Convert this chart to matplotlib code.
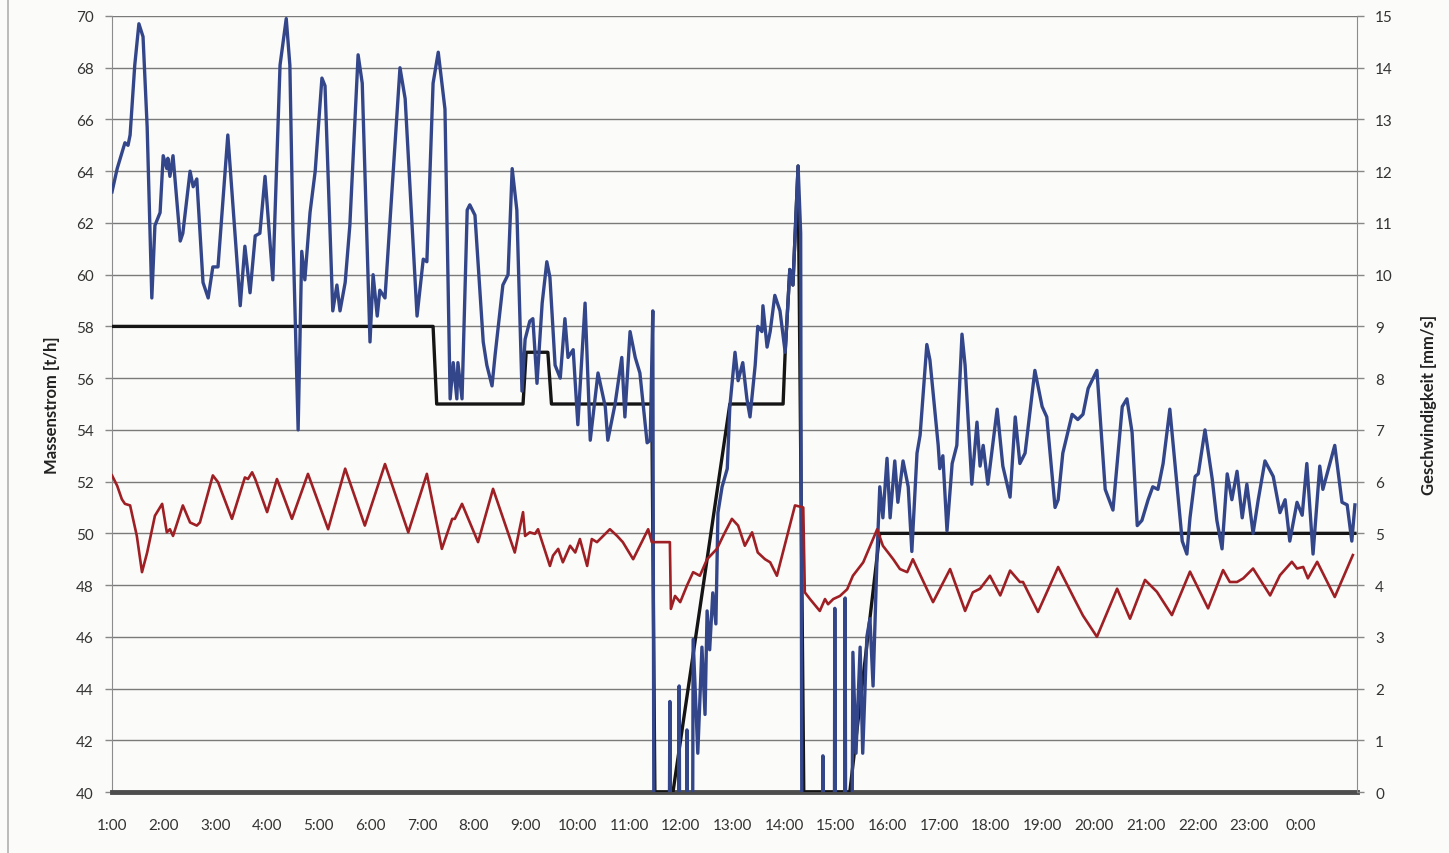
#!/usr/bin/env python3
"""
Massenstrom und Geschwindigkeit über einen Tag (Tagesverlauf)
"""

import matplotlib
matplotlib.use('Agg')
import matplotlib.pyplot as plt

plt.rcParams['font.family'] = ['Lato', 'DejaVu Sans']

# Uhrzeit in Stunden (1.0 = 1:00, 25.0 = 1:00 am Folgetag)
massenstrom_t = [
    1.00, 1.10, 1.19, 1.25, 1.31, 1.35, 1.44, 1.52, 1.60, 1.68, 1.77, 1.83, 1.93, 1.99,
    2.06, 2.08, 2.12, 2.18, 2.32, 2.37, 2.51, 2.57, 2.64, 2.76, 2.86, 2.95, 3.05, 3.24,
    3.48, 3.57, 3.67, 3.77, 3.86, 3.96, 4.11, 4.25, 4.37, 4.44, 4.50, 4.60, 4.67, 4.73,
    4.83, 4.93, 5.06, 5.12, 5.27, 5.35, 5.41, 5.51, 5.60, 5.76, 5.84, 5.99, 6.05, 6.13,
    6.18, 6.28, 6.57, 6.67, 6.90, 7.02, 7.09, 7.21, 7.31, 7.44, 7.54, 7.60, 7.67, 7.69,
    7.77, 7.87, 7.92, 8.02, 8.18, 8.25, 8.35, 8.41, 8.56, 8.66, 8.74, 8.83, 8.93, 8.99,
    9.08, 9.14, 9.22, 9.32, 9.41, 9.47, 9.57, 9.67, 9.76, 9.82, 9.92, 10.01, 10.15, 10.25,
    10.40, 10.54, 10.59, 10.73, 10.86, 10.92, 11.02, 11.12, 11.21, 11.35, 11.41, 11.46,
    11.52, 11.70, 11.79, 11.87, 11.97, 12.04, 12.12, 12.18, 12.24, 12.33, 12.41, 12.47,
    12.51, 12.56, 12.62, 12.68, 12.72, 12.80, 12.90, 12.95, 13.05, 13.11, 13.20, 13.28,
    13.34, 13.44, 13.49, 13.57, 13.59, 13.67, 13.73, 13.82, 13.92, 14.02, 14.11, 14.17,
    14.27, 14.32, 14.38, 14.71, 14.75, 14.81, 14.94, 14.98, 15.04, 15.14, 15.18, 15.23,
    15.33, 15.39, 15.47, 15.52, 15.60, 15.66, 15.72, 15.80, 15.85, 15.91, 15.99, 16.05,
    16.14, 16.20, 16.30, 16.40, 16.47, 16.57, 16.63, 16.76, 16.82, 16.98, 17.01, 17.07,
    17.15, 17.25, 17.34, 17.44, 17.50, 17.63, 17.73, 17.79, 17.85, 17.94, 18.12, 18.23,
    18.37, 18.47, 18.56, 18.66, 18.85, 18.99, 19.08, 19.24, 19.30, 19.39, 19.57, 19.68,
    19.78, 19.88, 20.05, 20.21, 20.36, 20.54, 20.63, 20.73, 20.83, 20.92, 21.04, 21.13,
    21.23, 21.33, 21.46, 21.60, 21.70, 21.79, 21.85, 21.95, 22.01, 22.14, 22.28, 22.37,
    22.47, 22.57, 22.66, 22.76, 22.86, 22.95, 23.07, 23.17, 23.30, 23.46, 23.59, 23.69,
    23.78, 23.92, 24.02, 24.11, 24.23, 24.36, 24.42, 24.65, 24.79, 24.89, 24.98, 25.04,
]
massenstrom = [
    63.2, 64.1, 64.7, 65.1, 65.0, 65.4, 68.1, 69.7, 69.2, 65.7, 59.1, 61.9, 62.4, 64.6,
    64.1, 64.5, 63.8, 64.6, 61.3, 61.6, 64.0, 63.4, 63.7, 59.7, 59.1, 60.3, 60.3, 65.4,
    58.8, 61.1, 59.3, 61.5, 61.6, 63.8, 59.8, 68.1, 69.9, 68.1, 61.6, 54.0, 60.9, 59.8,
    62.4, 64.0, 67.6, 67.3, 58.6, 59.6, 58.6, 59.7, 61.9, 68.5, 67.4, 57.4, 60.0, 58.4,
    59.4, 59.1, 68.0, 66.8, 58.4, 60.6, 60.5, 67.4, 68.6, 66.4, 55.2, 56.6, 55.2, 56.6,
    55.2, 62.5, 62.7, 62.3, 57.4, 56.5, 55.7, 56.9, 59.6, 60.0, 64.1, 62.5, 55.5, 57.5,
    58.2, 58.3, 55.8, 58.9, 60.5, 59.9, 56.5, 56.0, 58.3, 56.8, 57.1, 54.2, 58.9, 53.6,
    56.2, 54.9, 53.6, 55.0, 56.8, 54.5, 57.8, 56.8, 56.2, 53.5, 53.6, 58.6,
    0.0, 0.0, 43.5, 0.0, 44.1, 0.0, 42.4, 0.0, 45.9, 41.5, 45.6, 43.0,
    47.0, 45.5, 47.7, 46.5, 50.8, 51.8, 52.5, 54.9, 57.0, 55.9, 56.6, 55.2,
    54.5, 56.5, 58.0, 57.8, 58.8, 57.2, 57.8, 59.2, 58.6, 57.0, 60.2, 59.6,
    64.2, 61.6, 0.0, 0.0, 41.4, 0.0, 0.0, 47.1, 0.0, 0.0, 47.5, 0.0,
    45.4, 41.5, 45.6, 41.5, 46.0, 46.7, 44.1, 49.3, 51.8, 50.6, 52.9, 50.6,
    52.8, 51.2, 52.8, 51.8, 49.3, 53.1, 53.8, 57.3, 56.7, 53.4, 52.5, 53.0,
    50.1, 52.7, 53.4, 57.7, 56.5, 51.9, 54.3, 52.6, 53.4, 51.9, 54.8, 52.6,
    51.4, 54.5, 52.7, 53.1, 56.3, 54.9, 54.5, 51.0, 51.3, 53.1, 54.6, 54.4,
    54.6, 55.6, 56.3, 51.7, 50.9, 54.9, 55.2, 53.9, 50.3, 50.5, 51.3, 51.8,
    51.7, 52.7, 54.8, 51.8, 49.7, 49.2, 50.6, 52.2, 52.3, 54.0, 52.1, 50.5,
    49.4, 52.3, 51.3, 52.4, 50.6, 51.9, 50.0, 51.3, 52.8, 52.2, 50.8, 51.3,
    49.7, 51.2, 50.7, 52.7, 49.2, 52.6, 51.7, 53.4, 51.2, 51.1, 49.7, 51.1,
]

# Sollwert Massenstrom [t/h]
sollwert_t = [1.00, 7.21, 7.28, 8.95, 9.01, 9.43, 9.50, 11.44, 11.50, 11.85,
              12.95, 13.98, 14.02, 14.11, 14.17, 14.27, 14.38, 15.27, 15.85, 25.04]
sollwert = [58, 58, 55, 55, 57, 57, 55, 55, 40, 40,
            55, 55, 57.0, 60.2, 59.6, 64.2, 40, 40, 50, 50]

# Geschwindigkeit [mm/s] (rechte Achse)
geschw_t = [
    1.00, 1.10, 1.19, 1.25, 1.35, 1.48, 1.58, 1.68, 1.83, 1.97, 2.06, 2.12, 2.18, 2.37,
    2.51, 2.64, 2.70, 2.95, 3.05, 3.32, 3.57, 3.63, 3.71, 3.77, 4.00, 4.19, 4.29, 4.48,
    4.79, 5.18, 5.51, 5.89, 6.28, 6.73, 7.09, 7.38, 7.58, 7.63, 7.77, 8.08, 8.37, 8.79,
    8.95, 8.99, 9.08, 9.18, 9.24, 9.47, 9.53, 9.63, 9.72, 9.86, 9.96, 10.05, 10.19, 10.28,
    10.38, 10.63, 10.77, 10.88, 11.08, 11.37, 11.44, 11.79, 11.81, 11.89, 11.99, 12.12,
    12.24, 12.37, 12.51, 12.70, 12.82, 12.99, 13.11, 13.24, 13.38, 13.49, 13.63, 13.73,
    13.86, 14.21, 14.37, 14.40, 14.50, 14.69, 14.79, 14.85, 14.95, 15.08, 15.22, 15.33,
    15.53, 15.80, 15.91, 16.11, 16.24, 16.38, 16.49, 16.88, 17.21, 17.50, 17.65, 17.79,
    17.98, 18.18, 18.37, 18.56, 18.62, 18.91, 19.30, 19.63, 19.78, 20.05, 20.44, 20.69,
    20.98, 21.21, 21.50, 21.85, 22.20, 22.49, 22.62, 22.76, 22.88, 23.07, 23.40, 23.59,
    23.82, 23.92, 24.04, 24.13, 24.31, 24.65, 25.00,
]
geschw = [
    6.12, 5.92, 5.66, 5.57, 5.54, 4.95, 4.25, 4.63, 5.34, 5.57, 5.02, 5.08, 4.95, 5.54,
    5.21, 5.15, 5.21, 6.12, 5.99, 5.28, 6.08, 6.05, 6.18, 6.05, 5.41, 6.05, 5.79, 5.28,
    6.15, 5.08, 6.25, 5.15, 6.34, 5.02, 6.15, 4.70, 5.28, 5.28, 5.57, 4.83, 5.86, 4.63,
    5.41, 4.95, 5.02, 4.99, 5.08, 4.37, 4.57, 4.70, 4.44, 4.76, 4.63, 4.89, 4.37, 4.89,
    4.83, 5.08, 4.95, 4.83, 4.50, 5.08, 4.83, 4.83, 3.54, 3.79, 3.67, 3.99,
    4.25, 4.18, 4.50, 4.70, 4.95, 5.28, 5.15, 4.76, 5.02, 4.63, 4.50, 4.44,
    4.18, 5.54, 5.50, 3.86, 3.73, 3.50, 3.73, 3.63, 3.73, 3.79, 3.92, 4.18,
    4.44, 5.08, 4.76, 4.50, 4.31, 4.25, 4.50, 3.67, 4.31, 3.50, 3.86, 3.93,
    4.18, 3.80, 4.28, 4.06, 4.06, 3.48, 4.35, 3.70, 3.41, 3.00, 3.93, 3.35,
    4.10, 3.87, 3.42, 4.26, 3.55, 4.29, 4.06, 4.06, 4.13, 4.32, 3.80, 4.19,
    4.45, 4.32, 4.35, 4.13, 4.45, 3.77, 4.58,
]

stunden = list(range(1, 25))
stunden_labels = [f'{h % 24}:00' for h in stunden]

fig = plt.figure(figsize=(14.49, 8.54), dpi=100)
fig.patch.set_facecolor('#fbfbf9')
ax = fig.add_axes([0.0773, 0.0714, 0.8592, 0.9087])
ax.set_facecolor('#fbfbf9')

# Gitterlinien
ax.set_ylim(40, 70)
ax.set_yticks(range(40, 71, 2))
ax.grid(axis='y', color='#7a7a7a', linewidth=1.0)
ax.set_axisbelow(True)

# Sollwert unter dem Istwert zeichnen
ax.plot(sollwert_t, sollwert, color='#151515', linewidth=2.4, zorder=3)
ax.plot(massenstrom_t, massenstrom, color='#34468a', linewidth=2.4, zorder=4)

ax.set_xlim(1.0, 25.08)
ax.set_xticks(stunden)
ax.set_xticklabels(stunden_labels)
ax.tick_params(axis='x', length=0, pad=19, labelsize=11, colors='#333333')
ax.tick_params(axis='y', length=5, width=1, color='#888888', labelsize=11,
               labelcolor='#333333', pad=8)

for side in ['top', 'right']:
    ax.spines[side].set_visible(False)
ax.spines['left'].set_color('#8c8c8c')
ax.spines['bottom'].set_color('#4d4d4d')
ax.spines['bottom'].set_linewidth(3.5)

ax.set_ylabel('Massenstrom [t/h]', fontsize=12, fontweight='bold', color='#222222',
              labelpad=12)

# Geschwindigkeit auf der rechten Achse
ax2 = ax.twinx()
ax2.plot(geschw_t, geschw, color='#9e1f24', linewidth=1.9, zorder=5)
ax2.set_ylim(0, 15)
ax2.set_yticks(range(0, 16))
ax2.tick_params(axis='y', length=5, width=1, color='#888888', labelsize=11,
                labelcolor='#333333', pad=8)
for side in ['top', 'left', 'bottom']:
    ax2.spines[side].set_visible(False)
ax2.spines['right'].set_color('#8c8c8c')
ax2.set_ylabel('Geschwindigkeit [mm/s]', fontsize=12, fontweight='bold', color='#222222',
               labelpad=20)

# Rahmen des Diagrammbereichs links
fig.add_artist(plt.Line2D([0.0055, 0.0055], [0.0, 1.0], color='#b0b0b0',
                          linewidth=1.2, transform=fig.transFigure))

fig.savefig('out.png', dpi=100, facecolor=fig.get_facecolor())
plt.close(fig)
